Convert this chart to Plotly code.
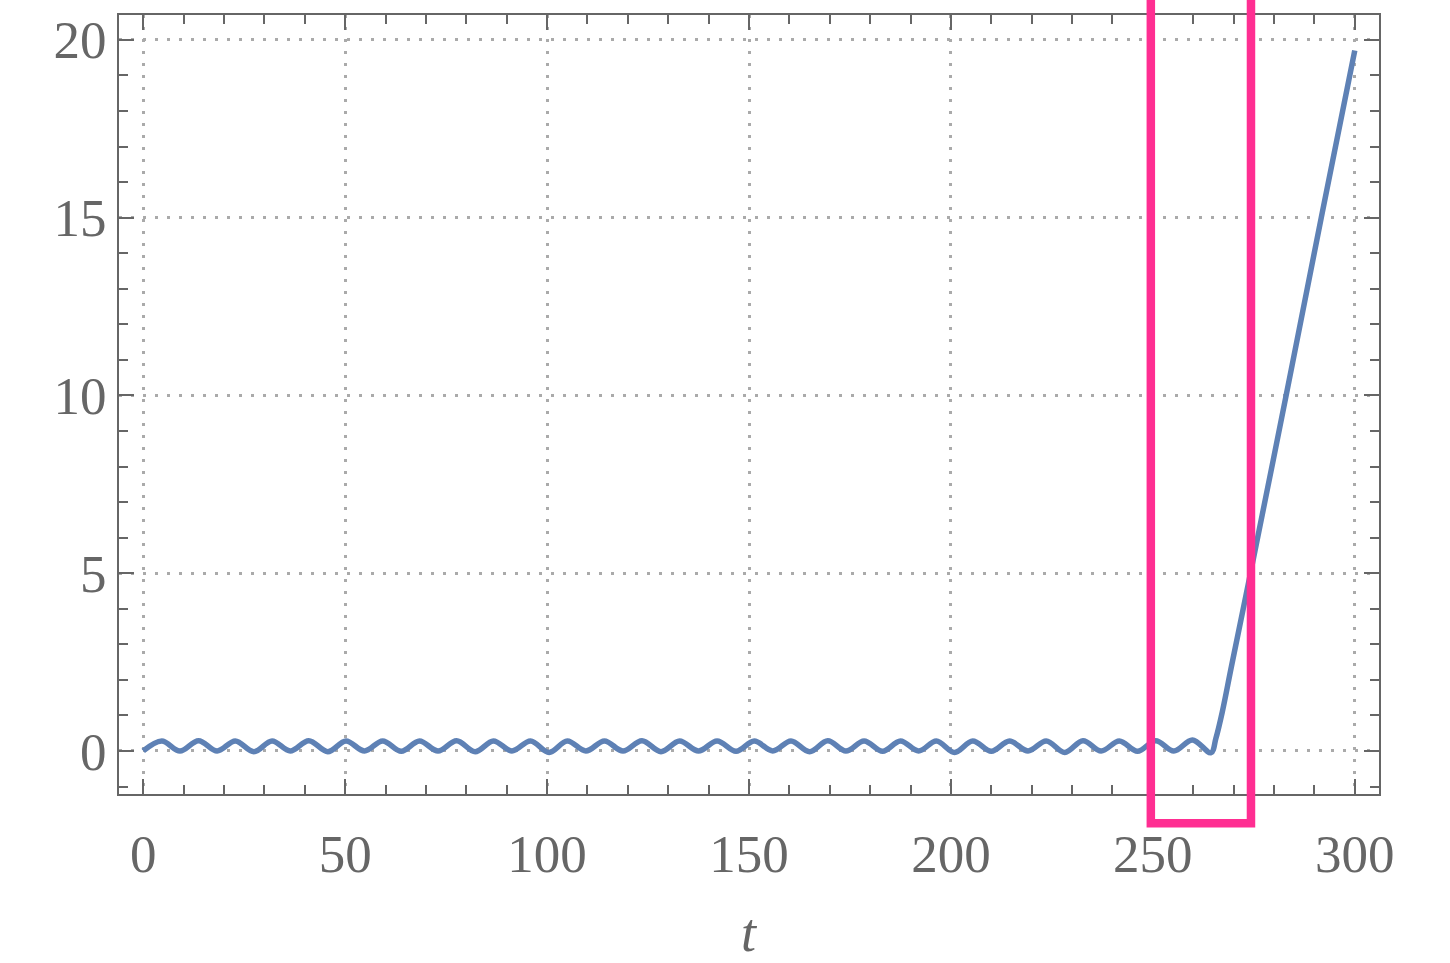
import plotly.graph_objects as go

# Oscillating phase: alternating troughs and crests, t in time units
t_wave = [
    0.0, 4.6, 9.1, 13.7, 18.3, 22.8, 27.4, 31.9, 36.4, 41.0,
    45.7, 50.2, 54.8, 59.3, 63.9, 68.4, 73.0, 77.6, 82.2, 86.7,
    91.3, 95.9, 100.5, 105.0, 109.6, 114.2, 118.8, 123.5, 128.2, 132.8,
    137.5, 142.1, 146.8, 151.3, 155.9, 160.4, 165.0, 169.5, 174.0, 178.5,
    183.1, 187.5, 192.0, 196.4, 200.9, 205.4, 210.0, 214.5, 219.1, 223.6,
    228.2, 232.7, 237.2, 241.7, 246.2, 250.7, 255.2, 259.8, 264.4,
]
y_wave = [
    0.00, 0.28, 0.00, 0.29, 0.00, 0.28, -0.02, 0.28, 0.00, 0.29,
    -0.02, 0.28, 0.00, 0.28, -0.01, 0.28, 0.00, 0.29, -0.02, 0.28,
    0.00, 0.28, -0.04, 0.28, 0.00, 0.28, 0.00, 0.29, -0.02, 0.28,
    0.00, 0.28, -0.01, 0.28, 0.00, 0.28, -0.02, 0.29, 0.00, 0.28,
    -0.01, 0.28, 0.00, 0.28, -0.04, 0.28, -0.01, 0.28, 0.00, 0.28,
    -0.04, 0.29, 0.00, 0.28, -0.01, 0.29, 0.00, 0.31, -0.05,
]

# Runaway phase after the last trough
t_rise = [265.6, 267.2, 269.5, 274.0, 283.0, 291.7, 300.0]
y_rise = [0.35, 1.1, 2.4, 4.9, 10.0, 15.0, 19.7]

# Highlighted time window
window_t = [249.5, 274.3]

x_ticks = [0, 50, 100, 150, 200, 250, 300]
y_ticks = [0, 5, 10, 15, 20]

FRAME = "#666666"
FONT = "Liberation Serif"

fig = go.Figure()
fig.add_trace(go.Scatter(
    x=t_wave + t_rise,
    y=y_wave + y_rise,
    mode="lines",
    line=dict(color="#5E81B5", width=5.5, shape="spline", smoothing=1.0),
    hoverinfo="skip",
    showlegend=False,
))

fig.add_shape(
    type="rect", xref="x", yref="paper",
    x0=window_t[0], x1=window_t[1], y0=-0.0375, y1=1.2,
    line=dict(color="#FF2E92", width=8.5),
    fillcolor="rgba(0,0,0,0)",
    layer="above",
)

# Horizontal axis label, placed below the tick labels
fig.add_annotation(
    text="<i>t</i>", xref="paper", yref="paper", x=0.5, y=-0.178,
    xanchor="center", yanchor="middle", showarrow=False,
    font=dict(family=FONT, size=54, color=FRAME),
)

axis_common = dict(
    showline=True, linecolor=FRAME, linewidth=2, mirror="allticks",
    ticks="inside", tickcolor=FRAME, tickwidth=2, ticklen=15,
    showgrid=True, gridcolor="#aaaaaa", gridwidth=3, griddash="3px,9px",
    zeroline=False, automargin=False,
    tickfont=dict(family=FONT, size=53, color=FRAME),
)

fig.update_xaxes(
    **axis_common,
    range=[-6, 306],
    tickmode="array", tickvals=x_ticks, ticktext=[str(v) for v in x_ticks],
    minor=dict(ticks="inside", dtick=10, tick0=0, ticklen=9, tickwidth=2,
               tickcolor=FRAME, showgrid=False),
    ticklabelstandoff=12,
)
fig.update_yaxes(
    **axis_common,
    range=[-1.21, 20.70],
    tickmode="array", tickvals=y_ticks, ticktext=[str(v) for v in y_ticks],
    minor=dict(ticks="inside", dtick=1, tick0=0, ticklen=9, tickwidth=2,
               tickcolor=FRAME, showgrid=False),
    ticklabelstandoff=0,
)

fig.update_layout(
    width=1450, height=963,
    margin=dict(l=119, r=71, t=15, b=169),
    paper_bgcolor="white", plot_bgcolor="white",
)

fig.write_html("out.html")
